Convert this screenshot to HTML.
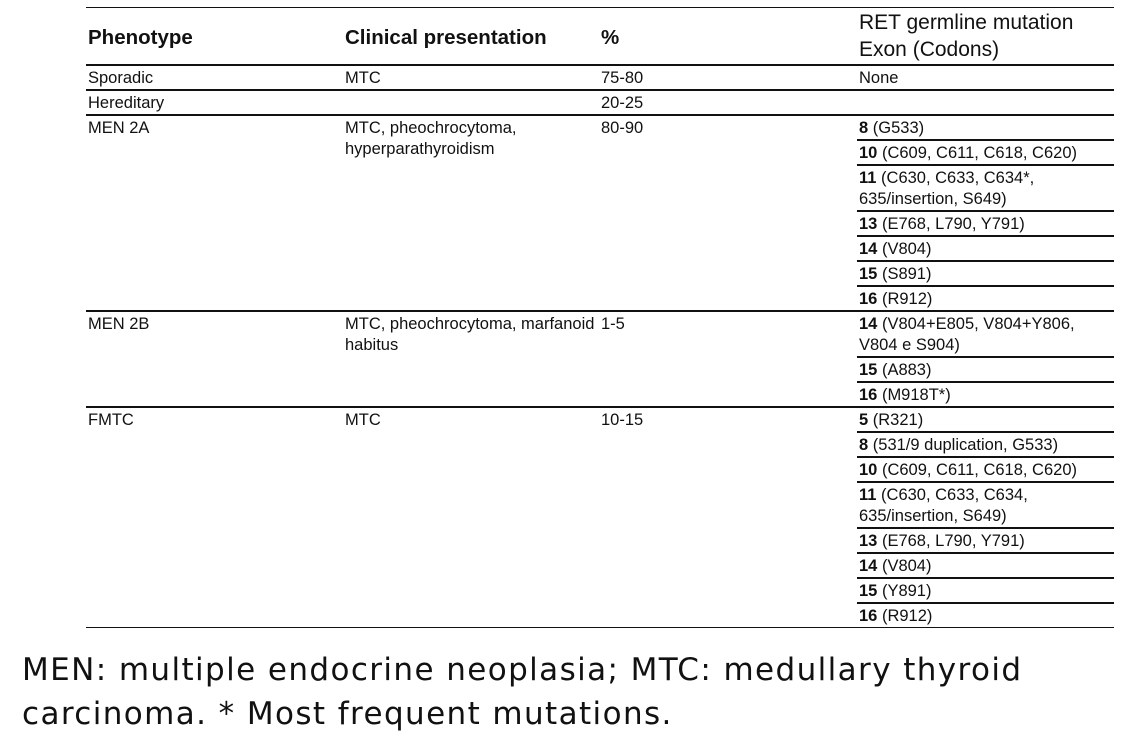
<!DOCTYPE html>
<html><head><meta charset="utf-8"><style>
body{margin:0;width:1124px;height:732px;background:#fff;position:relative;overflow:hidden;font-family:"Liberation Sans",Arial,sans-serif;color:#111}
.t{position:absolute;font-size:16.5px;line-height:21px;white-space:nowrap}
.h{position:absolute;font-size:20.5px;font-weight:bold;line-height:24px;white-space:nowrap}
.l{position:absolute;height:2px;background:#111}
b{font-weight:bold}
.cap{position:absolute;left:22px;font-family:"DejaVu Sans",Verdana,sans-serif;font-size:31px;letter-spacing:1.4px;line-height:44px;color:#111;white-space:nowrap}
</style></head><body>
<div class="l" style="left:86px;width:1028px;top:7px;height:1px"></div>
<div class="h" style="left:88px;top:26px">Phenotype</div>
<div class="h" style="left:345px;top:26px">Clinical presentation</div>
<div class="h" style="left:601px;top:26px">%</div>
<div class="t" style="left:859px;top:9px;font-size:21px;line-height:27px">RET germline mutation<br>Exon (Codons)</div>
<div class="l" style="left:86px;width:1028px;top:64px"></div>
<div class="t" style="left:88px;top:68px">Sporadic</div><div class="t" style="left:345px;top:68px">MTC</div><div class="t" style="left:601px;top:68px">75-80</div><div class="t" style="left:859px;top:68px">None</div>
<div class="l" style="left:86px;width:1028px;top:89px"></div>
<div class="t" style="left:88px;top:93px">Hereditary</div><div class="t" style="left:601px;top:93px">20-25</div>
<div class="l" style="left:86px;width:1028px;top:114px"></div>
<div class="t" style="left:88px;top:118px">MEN 2A</div><div class="t" style="left:345px;top:118px">MTC, pheochrocytoma,<br>hyperparathyroidism</div><div class="t" style="left:601px;top:118px">80-90</div>
<div class="t" style="left:859px;top:118px"><b>8</b> (G533)</div>
<div class="l" style="left:857px;width:257px;top:139px"></div>
<div class="t" style="left:859px;top:143px"><b>10</b> (C609, C611, C618, C620)</div>
<div class="l" style="left:857px;width:257px;top:164px"></div>
<div class="t" style="left:859px;top:168px"><b>11</b> (C630, C633, C634*,<br>635/insertion, S649)</div>
<div class="l" style="left:857px;width:257px;top:210px"></div>
<div class="t" style="left:859px;top:214px"><b>13</b> (E768, L790, Y791)</div>
<div class="l" style="left:857px;width:257px;top:235px"></div>
<div class="t" style="left:859px;top:239px"><b>14</b> (V804)</div>
<div class="l" style="left:857px;width:257px;top:260px"></div>
<div class="t" style="left:859px;top:264px"><b>15</b> (S891)</div>
<div class="l" style="left:857px;width:257px;top:285px"></div>
<div class="t" style="left:859px;top:289px"><b>16</b> (R912)</div>
<div class="l" style="left:86px;width:1028px;top:310px"></div>
<div class="t" style="left:88px;top:314px">MEN 2B</div><div class="t" style="left:345px;top:314px">MTC, pheochrocytoma, marfanoid<br>habitus</div><div class="t" style="left:601px;top:314px">1-5</div>
<div class="t" style="left:859px;top:314px"><b>14</b> (V804+E805, V804+Y806,<br>V804 e S904)</div>
<div class="l" style="left:857px;width:257px;top:356px"></div>
<div class="t" style="left:859px;top:360px"><b>15</b> (A883)</div>
<div class="l" style="left:857px;width:257px;top:381px"></div>
<div class="t" style="left:859px;top:385px"><b>16</b> (M918T*)</div>
<div class="l" style="left:86px;width:1028px;top:406px"></div>
<div class="t" style="left:88px;top:410px">FMTC</div><div class="t" style="left:345px;top:410px">MTC</div><div class="t" style="left:601px;top:410px">10-15</div>
<div class="t" style="left:859px;top:410px"><b>5</b> (R321)</div>
<div class="l" style="left:857px;width:257px;top:431px"></div>
<div class="t" style="left:859px;top:435px"><b>8</b> (531/9 duplication, G533)</div>
<div class="l" style="left:857px;width:257px;top:456px"></div>
<div class="t" style="left:859px;top:460px"><b>10</b> (C609, C611, C618, C620)</div>
<div class="l" style="left:857px;width:257px;top:481px"></div>
<div class="t" style="left:859px;top:485px"><b>11</b> (C630, C633, C634,<br>635/insertion, S649)</div>
<div class="l" style="left:857px;width:257px;top:527px"></div>
<div class="t" style="left:859px;top:531px"><b>13</b> (E768, L790, Y791)</div>
<div class="l" style="left:857px;width:257px;top:552px"></div>
<div class="t" style="left:859px;top:556px"><b>14</b> (V804)</div>
<div class="l" style="left:857px;width:257px;top:577px"></div>
<div class="t" style="left:859px;top:581px"><b>15</b> (Y891)</div>
<div class="l" style="left:857px;width:257px;top:602px"></div>
<div class="t" style="left:859px;top:606px"><b>16</b> (R912)</div>
<div class="l" style="left:86px;width:1028px;top:627px;height:1px"></div>
<div class="cap" style="top:648px">MEN: multiple endocrine neoplasia; MTC: medullary thyroid<br>carcinoma. * Most frequent mutations.</div>
</body></html>
